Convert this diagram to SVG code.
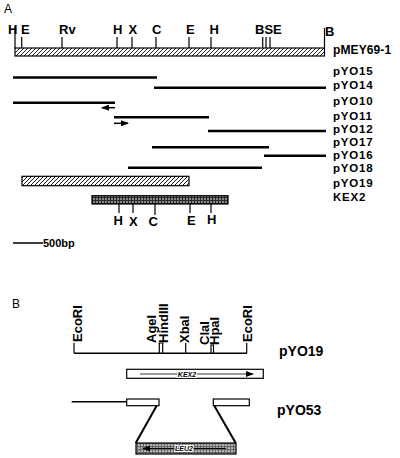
<svg xmlns="http://www.w3.org/2000/svg" width="400" height="458" viewBox="0 0 400 458">
<style>
.lb{font-family:"Liberation Sans",Arial,sans-serif;font-weight:bold;font-size:13px;fill:#000}
.rl{font-family:"Liberation Sans",Arial,sans-serif;font-weight:bold;font-size:11.5px;letter-spacing:0.8px;fill:#000}
.pl{font-family:"Liberation Sans",Arial,sans-serif;font-size:12px;fill:#000}
.big{font-family:"Liberation Sans",Arial,sans-serif;font-weight:bold;font-size:14px;fill:#000}
.sm{font-family:"Liberation Sans",Arial,sans-serif;font-weight:bold;font-style:italic;font-size:7px;fill:#000;stroke:#fff;stroke-width:2;paint-order:stroke}
.clone{stroke:#000;stroke-width:2.5;fill:none}
.tick{stroke:#000;stroke-width:1.2;fill:none}
.thin{stroke:#000;stroke-width:1.4;fill:none}
.box{stroke:#000;stroke-width:1.2}
</style>
<defs>
<pattern id="hatch" width="4" height="4" patternUnits="userSpaceOnUse">
<rect width="4" height="4" fill="#fff"/>
<path d="M-1,5 L5,-1 M-2,2 L2,-2 M2,6 L6,2" stroke="#000" stroke-width="0.9"/>
</pattern>
<pattern id="dots" width="3" height="3" patternUnits="userSpaceOnUse">
<rect width="3" height="3" fill="#2a2a2a"/>
<circle cx="1" cy="1" r="0.8" fill="#fff"/>
</pattern>
<pattern id="dots2" width="3" height="3" patternUnits="userSpaceOnUse">
<rect width="3" height="3" fill="#666"/>
<circle cx="1" cy="1" r="0.85" fill="#fff"/>
</pattern>
<marker id="ah" markerWidth="8" markerHeight="6" refX="7" refY="3" orient="auto" markerUnits="userSpaceOnUse">
<path d="M0,0 L8,3 L0,6 Z" fill="#000"/>
</marker>
</defs>
<rect width="400" height="458" fill="#fff"/>

<text class="pl" x="4" y="13">A</text>

<g id="pMEY69-1">
<rect x="15" y="48" width="309.5" height="8" fill="url(#hatch)" class="box"/>
<path class="tick" d="M15,26V48 M21.7,37V48 M62,37V48 M117,37V48 M132,37V48 M156,37V48 M189,37V48 M211,37V48 M262.7,37V48 M266,37V48 M270,37V48 M324.5,28V48"/>
<text class="lb" x="8" y="34">H</text>
<text class="lb" x="21" y="34">E</text>
<text class="lb" x="59" y="34">Rv</text>
<text class="lb" x="113" y="34">H</text>
<text class="lb" x="128.5" y="34">X</text>
<text class="lb" x="152" y="34">C</text>
<text class="lb" x="186" y="34">E</text>
<text class="lb" x="209.5" y="34">H</text>
<text class="lb" x="255" y="34">BSE</text>
<text class="lb" x="325" y="36">B</text>
<text class="rl" x="333" y="54" style="font-size:12px;letter-spacing:0.1px">pMEY69-1</text>
</g>

<g id="clones">
<line class="clone" x1="13" y1="77.5" x2="157" y2="77.5"/>
<line class="clone" x1="154" y1="87.7" x2="326" y2="87.7"/>
<line class="clone" x1="13" y1="102.7" x2="115" y2="102.7"/>
<line class="clone" x1="114" y1="117.3" x2="209" y2="117.3"/>
<line class="clone" x1="208" y1="131" x2="326" y2="131"/>
<line class="clone" x1="152" y1="147.3" x2="269" y2="147.3"/>
<line class="clone" x1="264" y1="155.7" x2="326" y2="155.7"/>
<line class="clone" x1="128" y1="167.7" x2="262" y2="167.7"/>
<line x1="115" y1="107.7" x2="102" y2="107.7" stroke="#000" stroke-width="1.5" marker-end="url(#ah)"/>
<line x1="114" y1="123.3" x2="128" y2="123.3" stroke="#000" stroke-width="1.5" marker-end="url(#ah)"/>
<rect id="pYO19box" x="22" y="176.3" width="167" height="9.4" fill="url(#hatch)" class="box"/>
</g>

<g id="KEX2map">
<rect x="92" y="195.7" width="136" height="8.3" fill="url(#dots)" class="box"/>
<path class="tick" d="M119,204V213 M133,204V213 M155,204V215 M190,204V213 M211,204V213"/>
<text class="lb" x="113.5" y="225">H</text>
<text class="lb" x="129" y="226">X</text>
<text class="lb" x="148.5" y="226">C</text>
<text class="lb" x="187" y="225">E</text>
<text class="lb" x="207" y="224">H</text>
</g>

<g id="labelsA">
<text class="rl" x="333" y="75">pYO15</text>
<text class="rl" x="333" y="89">pYO14</text>
<text class="rl" x="333" y="105">pYO10</text>
<text class="rl" x="333" y="120">pYO11</text>
<text class="rl" x="333" y="133">pYO12</text>
<text class="rl" x="333" y="145.5">pYO17</text>
<text class="rl" x="333" y="158.5">pYO16</text>
<text class="rl" x="333" y="172">pYO18</text>
<text class="rl" x="333" y="187">pYO19</text>
<text class="rl" x="333" y="201">KEX2</text>
</g>

<g id="scale">
<line x1="13" y1="243" x2="43" y2="243" stroke="#000" stroke-width="1.5"/>
<text class="lb" x="43" y="247" style="font-size:11px">500bp</text>
</g>

<text class="pl" x="12" y="308">B</text>

<g id="pYO19">
<line class="thin" x1="74" y1="353.3" x2="247" y2="353.3"/>
<path class="tick" d="M74,343V353 M159.3,343V353 M162.7,343V353 M158.5,343H163.5 M185.7,343V353 M211,345V353 M213.5,345V353 M210.5,345H214 M246.7,343V353"/>
<text class="lb" transform="translate(81.5,342) rotate(-90)">EcoRI</text>
<text class="lb" transform="translate(156.3,343) rotate(-90)">AgeI</text>
<text class="lb" transform="translate(167.5,343) rotate(-90)">HindIII</text>
<text class="lb" transform="translate(189,343) rotate(-90)">XbaI</text>
<text class="lb" transform="translate(208.5,345) rotate(-90)">ClaI</text>
<text class="lb" transform="translate(219.3,345) rotate(-90)">HpaI</text>
<text class="lb" transform="translate(252,342) rotate(-90)">EcoRI</text>
<text class="big" x="279" y="356">pYO19</text>
</g>

<g id="KEX2gene">
<rect x="126.7" y="369.3" width="136.6" height="9" fill="#fff" class="box"/>
<line x1="140" y1="374" x2="253" y2="374" stroke="#000" stroke-width="0.8" marker-end="url(#ah)"/>
<text class="sm" x="187" y="376.5" text-anchor="middle">KEX2</text>
</g>

<g id="pYO53">
<line class="thin" x1="71.7" y1="401.7" x2="126.7" y2="401.7"/>
<rect x="126.7" y="399" width="32.3" height="6.7" fill="#fff" class="box"/>
<rect x="213.3" y="399" width="36" height="6.7" fill="#fff" class="box"/>
<text class="big" x="277" y="415">pYO53</text>
</g>

<g id="connectors">
<line x1="156.7" y1="405.7" x2="135.7" y2="443" stroke="#000" stroke-width="2"/>
<line x1="214.3" y1="405.7" x2="235.7" y2="443" stroke="#000" stroke-width="2"/>
</g>

<g id="LEU2">
<rect x="136" y="443" width="100" height="11" fill="url(#dots2)" class="box"/>
<line x1="226" y1="448.5" x2="143" y2="448.5" stroke="#000" stroke-width="1" marker-end="url(#ah)"/>
<text class="sm" x="184" y="451" text-anchor="middle">LEU2</text>
</g>
</svg>
